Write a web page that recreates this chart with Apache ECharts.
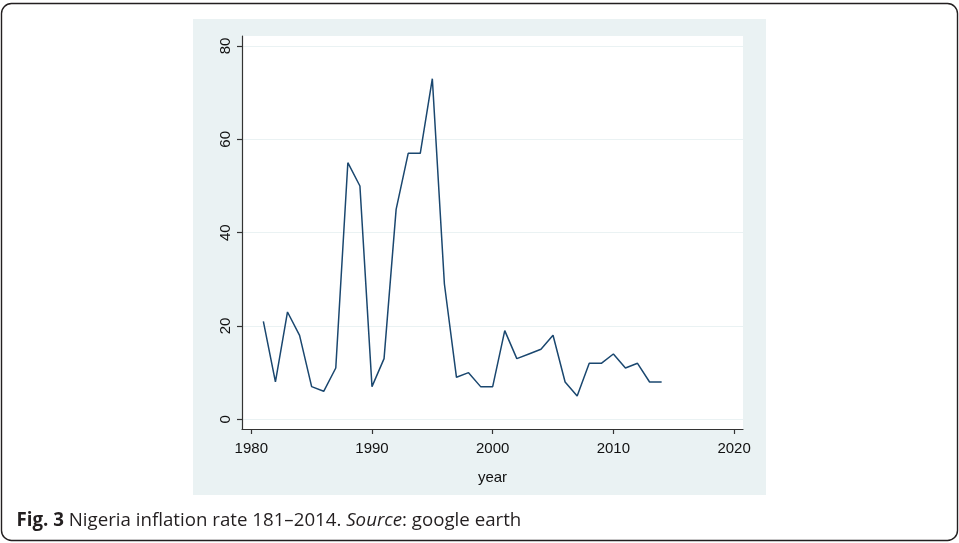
<!DOCTYPE html>
<html>
<head>
<meta charset="utf-8">
<script src="https://cdn.jsdelivr.net/npm/echarts@6/dist/echarts.min.js"></script>
<style>
  html, body { margin: 0; padding: 0; background: #ffffff; }
  #chart { width: 959px; height: 543px; }
</style>
</head>
<body>
<div id="chart"></div>
<script>
// Nigeria annual inflation rate (%), 1981–2014
const years = [1981, 1982, 1983, 1984, 1985, 1986, 1987, 1988, 1989, 1990,
               1991, 1992, 1993, 1994, 1995, 1996, 1997, 1998, 1999, 2000,
               2001, 2002, 2003, 2004, 2005, 2006, 2007, 2008, 2009, 2010,
               2011, 2012, 2013, 2014];
const inflation = [21, 8, 23, 18, 7, 6, 11, 55, 50, 7,
                   13, 45, 57, 57, 73, 29, 9, 10, 7, 7,
                   19, 13, 14, 15, 18, 8, 5, 12, 12, 14,
                   11, 12, 8, 8];

const xTicks = [1980, 1990, 2000, 2010, 2020];
const yTicks = [0, 20, 40, 60, 80];

const panelColor = '#eaf2f3';
const axisFont = 'Liberation Sans, Arial, sans-serif';

const chart = echarts.init(document.getElementById('chart'), null, { renderer: 'canvas' });

chart.setOption({
  animation: false,
  backgroundColor: '#ffffff',
  graphic: [
    // outer frame of the figure
    {
      type: 'rect', z: -10, silent: true,
      shape: { x: 1.5, y: 3.5, width: 956, height: 537, r: 10 },
      style: { fill: 'none', stroke: '#231f20', lineWidth: 1.4 }
    },
    // graph region background
    {
      type: 'rect', z: -5, silent: true,
      shape: { x: 193, y: 19, width: 573, height: 476 },
      style: { fill: panelColor }
    },
    // caption
    {
      type: 'text', silent: true,
      x: 16.5, y: 521,
      style: {
        text: '{b|Fig. 3} Nigeria inflation rate 181–2014. {i|Source}: google earth',
        font: '18.7px "Open Sans", sans-serif',
        fill: '#231f20',
        verticalAlign: 'middle',
        rich: {
          b: { fontFamily: 'Open Sans', fontSize: 18.7, fontWeight: 'bold', fill: '#231f20' },
          i: { fontFamily: 'Open Sans', fontSize: 18.7, fontStyle: 'italic', fill: '#231f20' }
        }
      }
    }
  ],
  grid: {
    left: 242, top: 36, width: 501, height: 393,
    show: true, backgroundColor: '#ffffff', borderWidth: 0
  },
  xAxis: {
    type: 'value',
    min: 1979.23, max: 2020.74,
    name: 'year',
    nameLocation: 'middle',
    nameGap: 41,
    nameTextStyle: { fontFamily: axisFont, fontSize: 15, color: '#111' },
    axisLine: { show: true, onZero: false, lineStyle: { color: '#333', width: 1.2 } },
    axisTick: { show: true, length: 5, customValues: xTicks, lineStyle: { color: '#333', width: 1.2 } },
    axisLabel: {
      customValues: xTicks, margin: 12,
      fontFamily: axisFont, fontSize: 15, color: '#111',
      formatter: v => String(v)
    },
    splitLine: { show: false }
  },
  yAxis: {
    type: 'value',
    min: -2.08, max: 82.15,
    axisLine: { show: true, onZero: false, lineStyle: { color: '#333', width: 1.2 } },
    axisTick: { show: true, length: 5, customValues: yTicks, lineStyle: { color: '#333', width: 1.2 } },
    axisLabel: {
      customValues: yTicks, margin: 9, rotate: 90,
      fontFamily: axisFont, fontSize: 15, color: '#111',
      formatter: v => String(v)
    },
    splitLine: { show: true, lineStyle: { color: panelColor, width: 1.2 } }
  },
  series: [{
    type: 'line',
    data: years.map((y, i) => [y, inflation[i]]),
    showSymbol: false,
    symbol: 'none',
    lineStyle: { color: '#1a476f', width: 1.5 },
    itemStyle: { color: '#1a476f' }
  }]
});
</script>
</body>
</html>
